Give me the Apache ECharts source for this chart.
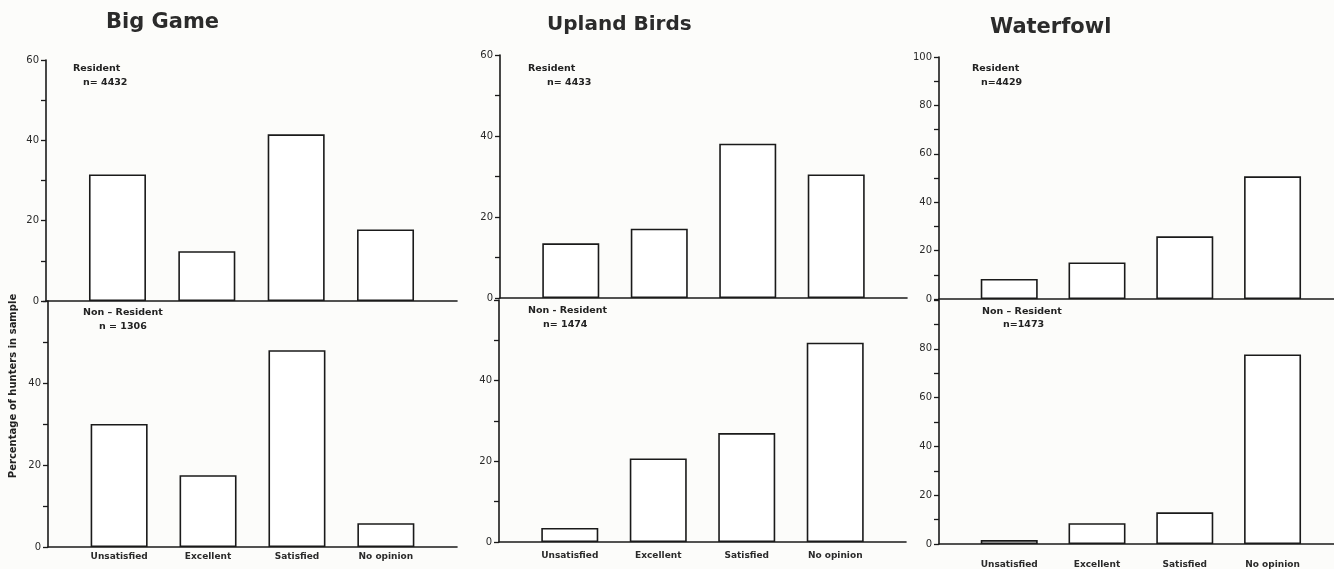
<!DOCTYPE html>
<html>
<head>
<meta charset="utf-8">
<script src="https://cdn.jsdelivr.net/npm/echarts@6/dist/echarts.min.js"></script>
<style>
  html, body { margin: 0; padding: 0; background: #fcfcfa; }
  #chart { width: 1334px; height: 569px; }
</style>
</head>
<body>
<div id="chart"></div>
<script>
// ---- data ----
const categories = ['Unsatisfied', 'Excellent', 'Satisfied', 'No opinion'];
const panelTitles = ['Big Game', 'Upland Birds', 'Waterfowl'];

const bigGameResident     = [31.5, 12.4, 41.5, 17.8];
const bigGameNonResident  = [30.0, 17.5, 48.0, 5.8];
const uplandResident      = [13.5, 17.1, 38.1, 30.5];
const uplandNonResident   = [3.5, 20.7, 27.0, 49.4];
const waterfowlResident   = [8.3, 15.1, 25.9, 50.7];
const waterfowlNonResident= [1.6, 8.5, 13.0, 77.7];

const sampleLabelsTop    = ['n= 4432', 'n= 4433', 'n=4429'];
const sampleLabelsBottom = ['n = 1306', 'n= 1474', 'n=1473'];
const groupTop    = ['Resident', 'Resident', 'Resident'];
const groupBottom = ['Non \u2013 Resident', 'Non - Resident', 'Non \u2013 Resident'];

const yMaxTop    = [60, 60, 100];
const yMaxBottom = [60, 60, 100];
const yTickStep  = 10;
const yLabelStep = 20;
const yAxisTitle = 'Percentage of hunters in sample';

// ---- layout ----
const ink = '#1a1a1a';
const fontFam = 'DejaVu Sans';
const gridsLayout = [
  {left: 46,  top: 60,  width: 411, height: 241},
  {left: 48,  top: 301, width: 409, height: 246},
  {left: 500, top: 55,  width: 407, height: 243},
  {left: 499, top: 300, width: 407, height: 242},
  {left: 939, top: 57,  width: 395, height: 242},
  {left: 939, top: 300, width: 395, height: 244}
];
const xRange = [[-0.8, 3.8], [-0.8, 3.8], [-0.8, 3.8], [-0.8, 3.8], [-0.8, 3.7], [-0.8, 3.7]];
const labelMargins = [5, 9, 16];
const seriesData = [bigGameResident, bigGameNonResident, uplandResident, uplandNonResident, waterfowlResident, waterfowlNonResident];

const grid = [], xAxis = [], yAxis = [], series = [];
for (let k = 0; k < 6; k++) {
  const panel = Math.floor(k / 2);
  const isBottom = k % 2 === 1;
  const yMax = isBottom ? yMaxBottom[panel] : yMaxTop[panel];
  grid.push(Object.assign({containLabel: false}, gridsLayout[k]));
  xAxis.push({
    type: 'value', gridIndex: k, min: xRange[k][0], max: xRange[k][1],
    splitLine: {show: false},
    axisTick: {show: false},
    axisLine: {show: true, onZero: false, lineStyle: {color: ink, width: 1.6}},
    axisLabel: isBottom ? {
      show: true, customValues: [0, 1, 2, 3], margin: labelMargins[panel],
      formatter: v => categories[Math.round(v)] || '',
      fontFamily: fontFam, fontWeight: 'bold', fontSize: 9, color: '#2a2a2a'
    } : {show: false}
  });
  yAxis.push({
    type: 'value', gridIndex: k, min: 0, max: yMax, interval: yTickStep,
    splitLine: {show: false},
    axisLine: {show: true, onZero: false, lineStyle: {color: ink, width: 1.6}},
    axisTick: {show: true, length: 5, lineStyle: {color: ink, width: 1.3}},
    axisLabel: {
      margin: 7, fontFamily: fontFam, fontSize: 10, color: '#2a2a2a',
      formatter: v => (v % yLabelStep === 0 && !(isBottom && v === yMax)) ? String(v) : ''
    }
  });
  series.push({
    type: 'bar', xAxisIndex: k, yAxisIndex: k, barWidth: 57,
    data: seriesData[k].map((v, i) => [i, v]),
    itemStyle: {color: '#ffffff', borderColor: ink, borderWidth: 1.6},
    animation: false, silent: true
  });
}

const titleTops = [12, 15, 17];
const titleLefts = [106, 547, 990];
const titleSizes = [21, 20, 21];
const title = panelTitles.map((t, i) => ({
  text: t, left: titleLefts[i], top: titleTops[i], padding: 0,
  textStyle: {fontFamily: fontFam, fontWeight: 'bold', fontSize: titleSizes[i], color: '#2b2b2b'}
}));

const annoStyle = {fontFamily: fontFam, fontWeight: 'bold', fontSize: 9.5, fill: '#222'};
const annoPos = [
  [[73, 69], [83, 82.5], [83, 312.5], [99, 326.5]],
  [[528, 68.5], [547, 82.5], [528, 311], [543, 325]],
  [[972, 69], [981, 82.5], [982, 311.5], [1003, 325]]
];
const graphic = [];
for (let p = 0; p < 3; p++) {
  const texts = [groupTop[p], sampleLabelsTop[p], groupBottom[p], sampleLabelsBottom[p]];
  texts.forEach((t, j) => {
    graphic.push({type: 'text', x: annoPos[p][j][0], y: annoPos[p][j][1],
      style: Object.assign({text: t, textVerticalAlign: 'middle', textAlign: 'left'}, annoStyle)});
  });
}
graphic.push({type: 'text', x: 13, y: 386, rotation: Math.PI / 2,
  style: {text: yAxisTitle, textAlign: 'center', textVerticalAlign: 'middle',
    fontFamily: fontFam, fontWeight: 'bold', fontSize: 10, fill: '#222'}});

const chart = echarts.init(document.getElementById('chart'), null, {renderer: 'canvas'});
chart.setOption({
  backgroundColor: '#fcfcfa',
  animation: false,
  title, grid, xAxis, yAxis, series, graphic
});
</script>
</body>
</html>
